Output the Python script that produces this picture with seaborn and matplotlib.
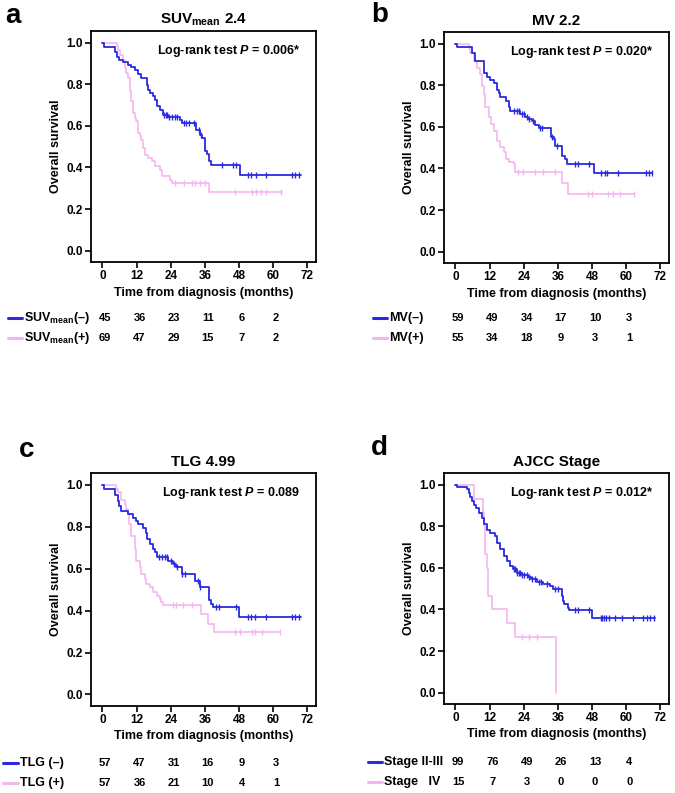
import numpy as np
import pandas as pd
import matplotlib
matplotlib.use("Agg")
import matplotlib.pyplot as plt
import matplotlib.transforms as mtransforms
from matplotlib.lines import Line2D
import seaborn as sns

sns.set_style("ticks")
plt.rcParams['font.family'] = ['Liberation Sans', 'DejaVu Sans']
plt.rcParams['font.weight'] = 'bold'
plt.rcParams['axes.labelweight'] = 'bold'
plt.rcParams['axes.titleweight'] = 'bold'
plt.rcParams['text.color'] = 'black'
plt.rcParams['axes.labelcolor'] = 'black'
plt.rcParams['xtick.color'] = 'black'
plt.rcParams['ytick.color'] = 'black'
plt.rcParams['mathtext.fontset'] = 'custom'
plt.rcParams['mathtext.rm'] = 'Liberation Sans:bold'
plt.rcParams['mathtext.it'] = 'Liberation Sans:bold:italic'
plt.rcParams['mathtext.bf'] = 'Liberation Sans:bold'

W, H = 675, 793
BLUE = '#2a2ae0'
PINK = '#f3b6f0'

# ---- data ----
risk_times = [0, 12, 24, 36, 48, 60]

# a: SUVmean 2.4
a_neg_t = [0, 0.4, 4.5, 5.2, 6.0, 7.2, 9.0, 10.2, 11.4, 12.6, 13.7, 15.5, 16.0, 16.7, 17.6, 18.4, 19.0,
           20.2, 21.4, 23.0, 27.3, 27.9, 33.0, 34.4, 35.0, 36.0, 36.8, 37.4, 38.2, 48.2, 69.8]
a_neg_s = [1.0, 0.978, 0.956, 0.933, 0.918, 0.91, 0.894, 0.882, 0.87, 0.85, 0.83, 0.798, 0.774, 0.758, 0.742,
           0.726, 0.694, 0.678, 0.654, 0.645, 0.63, 0.612, 0.582, 0.558, 0.54, 0.48, 0.465, 0.43, 0.41, 0.362, 0.362]
a_neg_cens = [21.5, 22.2, 22.8, 23.5, 24.6, 25.5, 26.2, 28.5, 29.5, 30.5, 32.0, 33.8, 34.7, 42.0, 46.0, 47.0,
              51.0, 52.3, 53.8, 57.5, 66.5, 67.8, 69.0]
a_pos_t = [0, 5.0, 5.4, 6.2, 7.2, 7.8, 8.4, 9.0, 9.6, 10.2, 10.8, 11.4, 11.9, 12.5, 13.1, 13.7, 14.3, 14.9,
           16.1, 17.3, 18.4, 20.2, 20.8, 23.8, 24.4, 37.5, 63.0]
a_pos_s = [1.0, 0.986, 0.966, 0.942, 0.918, 0.878, 0.855, 0.83, 0.766, 0.718, 0.662, 0.64, 0.622, 0.566, 0.55,
           0.534, 0.494, 0.462, 0.446, 0.43, 0.405, 0.39, 0.357, 0.341, 0.325, 0.28, 0.28]
a_pos_cens = [25.5, 28.5, 31.4, 32.6, 34.4, 36.2, 46.5, 52.5, 54.0, 55.7, 57.4, 62.8]
a_risk_neg = [45, 36, 23, 11, 6, 2]
a_risk_pos = [69, 47, 29, 15, 7, 2]

# b: MV 2.2
b_neg_t = [0, 0.4, 5.9, 6.8, 9.9, 11.1, 12.3, 13.5, 14.7, 15.3, 15.8, 17.6, 18.7, 19.3, 22.8, 24.6, 25.5,
           26.9, 28.1, 29.2, 33.4, 34.5, 35.1, 37.5, 38.6, 39.2, 48.6, 69.0]
b_neg_s = [1.0, 0.983, 0.958, 0.915, 0.862, 0.838, 0.825, 0.81, 0.78, 0.765, 0.745, 0.725, 0.697, 0.678,
           0.662, 0.65, 0.64, 0.628, 0.607, 0.596, 0.551, 0.543, 0.51, 0.458, 0.447, 0.423, 0.377, 0.377]
b_neg_cens = [20.5, 21.5, 22.2, 23.3, 24.0, 25.0, 26.0, 27.3, 29.8, 30.5, 34.0, 35.5, 42.0, 43.0, 47.0,
              51.0, 52.5, 53.2, 57.2, 66.8, 68.0, 69.0]
b_pos_t = [0, 4.7, 5.3, 6.4, 7.6, 8.5, 9.4, 9.9, 10.5, 11.7, 12.5, 13.5, 14.6, 15.6, 17.0, 17.9, 18.7,
           20.5, 21.1, 37.3, 39.6, 62.6]
b_pos_s = [1.0, 0.982, 0.958, 0.918, 0.886, 0.854, 0.798, 0.758, 0.694, 0.646, 0.614, 0.582, 0.534, 0.501,
           0.477, 0.446, 0.43, 0.42, 0.381, 0.33, 0.278, 0.278]
b_pos_cens = [22.1, 23.9, 27.8, 30.7, 34.8, 46.7, 47.8, 53.7, 55.5, 57.9, 62.6]
b_risk_neg = [59, 49, 34, 17, 10, 3]
b_risk_pos = [55, 34, 18, 9, 3, 1]

# c: TLG 4.99
c_neg_t = [0, 0.4, 4.5, 5.4, 5.8, 6.6, 8.9, 10.7, 11.9, 12.5, 14.2, 15.4, 15.8, 16.6, 17.8, 18.4, 19.0,
           23.1, 24.8, 26.0, 27.8, 32.5, 34.3, 37.5, 38.2, 39.0, 47.8, 69.6]
c_neg_s = [1.0, 0.982, 0.954, 0.923, 0.899, 0.875, 0.86, 0.844, 0.828, 0.812, 0.796, 0.773, 0.741, 0.717,
           0.694, 0.678, 0.654, 0.638, 0.623, 0.607, 0.575, 0.543, 0.512, 0.449, 0.434, 0.418, 0.37, 0.37]
c_neg_cens = [20.0, 21.0, 22.0, 22.8, 24.0, 25.2, 26.3, 28.0, 29.0, 33.5, 34.3, 40.0, 41.0, 47.0, 51.0,
              52.3, 53.5, 57.5, 66.5, 67.8, 69.2]
c_pos_t = [0, 4.8, 5.5, 6.6, 7.8, 8.4, 8.9, 9.5, 10.1, 11.3, 11.9, 13.1, 13.7, 14.8, 15.4, 16.6, 17.8,
           19.0, 20.1, 20.7, 21.3, 34.6, 37.2, 39.3, 62.5]
c_pos_s = [1.0, 0.982, 0.965, 0.93, 0.907, 0.883, 0.86, 0.812, 0.757, 0.693, 0.638, 0.607, 0.575, 0.551,
           0.528, 0.512, 0.488, 0.472, 0.456, 0.44, 0.425, 0.385, 0.338, 0.298, 0.298]
c_pos_cens = [24.9, 26.0, 28.4, 31.3, 46.6, 48.4, 52.5, 53.7, 56.0, 62.5]
c_risk_neg = [57, 47, 31, 16, 9, 3]
c_risk_pos = [57, 36, 21, 10, 4, 1]

# d: AJCC Stage
d_neg_t = [0, 0.4, 4.2, 4.7, 5.3, 5.9, 6.5, 7.1, 8.2, 9.4, 10.0, 11.1, 12.3, 14.0, 14.6, 15.7, 16.9, 18.1,
           19.2, 20.4, 21.5, 23.3, 25.6, 26.7, 28.5, 30.8, 33.1, 34.3, 37.3, 37.7, 38.2, 39.5, 40.0, 48.1, 70.0]
d_neg_s = [1.0, 0.99, 0.98, 0.962, 0.94, 0.921, 0.905, 0.889, 0.865, 0.841, 0.81, 0.785, 0.769, 0.753,
           0.721, 0.689, 0.657, 0.633, 0.609, 0.593, 0.577, 0.566, 0.556, 0.545, 0.534, 0.524, 0.513, 0.497,
           0.465, 0.441, 0.425, 0.409, 0.397, 0.36, 0.36]
d_neg_cens = [20.5, 21.0, 21.6, 22.2, 22.8, 23.5, 24.2, 25.0, 26.0, 27.0, 28.0, 29.3, 30.2, 32.0, 35.0,
              36.0, 42.0, 43.0, 47.0, 51.0, 51.6, 52.2, 53.0, 54.0, 56.0, 58.5, 62.5, 66.0, 67.3, 68.5, 69.6]
d_pos_t = [0, 6.5, 9.7, 10.2, 10.5, 11.0, 11.5, 12.7, 18.0, 21.0, 35.3]
d_pos_s = [1.0, 0.933, 0.867, 0.8, 0.667, 0.6, 0.467, 0.4, 0.333, 0.267, 0.0]
d_pos_cens = [23.3, 25.9, 28.7]
d_risk_neg = [99, 76, 49, 26, 13, 4]
d_risk_pos = [15, 7, 3, 0, 0, 0]

panels = [
    dict(letter='a', title=r'SUV$_{\rm mean}$ 2.4', p=r'Log-rank test $P$ = 0.006*',
         curves=[(a_neg_t, a_neg_s, a_neg_cens), (a_pos_t, a_pos_s, a_pos_cens)],
         labels=[r'SUV$_{\rm mean}$(–)', r'SUV$_{\rm mean}$(+)'], risk=[a_risk_neg, a_risk_pos],
         rect=(91, 31, 225, 231), letter_xy=(5, 16), leg=(8, 22, 24), rows=(318, 338)),
    dict(letter='b', title='MV 2.2', p=r'Log-rank test $P$ = 0.020*',
         curves=[(b_neg_t, b_neg_s, b_neg_cens), (b_pos_t, b_pos_s, b_pos_cens)],
         labels=['MV(–)', 'MV(+)'], risk=[b_risk_neg, b_risk_pos],
         rect=(444, 32, 225, 231), letter_xy=(371, 15), leg=(373, 387, 389), rows=(318, 338)),
    dict(letter='c', title='TLG 4.99', p=r'Log-rank test $P$ = 0.089',
         curves=[(c_neg_t, c_neg_s, c_neg_cens), (c_pos_t, c_pos_s, c_pos_cens)],
         labels=['TLG (–)', 'TLG (+)'], risk=[c_risk_neg, c_risk_pos],
         rect=(91, 473, 225, 233), letter_xy=(19, 450), leg=(3, 18, 20), rows=(763, 783)),
    dict(letter='d', title='AJCC Stage', p=r'Log-rank test $P$ = 0.012*',
         curves=[(d_neg_t, d_neg_s, d_neg_cens), (d_pos_t, d_pos_s, d_pos_cens)],
         labels=['Stage II-III', 'Stage   IV'], risk=[d_risk_neg, d_risk_pos],
         rect=(444, 473, 225, 231), letter_xy=(371, 448), leg=(368, 382, 384), rows=(762, 782)),
]


def fx(px):
    return px / W


def fy(py):
    return 1 - py / H


fig = plt.figure(figsize=(W / 100, H / 100), dpi=100)

for pnl in panels:
    l, t, w, h = pnl['rect']
    ax = fig.add_axes([fx(l), fy(t + h), w / W, h / H])
    # plot pink first, blue on top
    for (times, surv, cens), color, lw in reversed(list(zip(pnl['curves'], [BLUE, PINK], [1.3, 1.2]))):
        df = pd.DataFrame({'t': times, 's': surv})
        sns.lineplot(data=df, x='t', y='s', drawstyle='steps-post', color=color, lw=lw,
                     estimator=None, sort=False, ax=ax)
        idx = np.searchsorted(np.array(times), np.array(cens), side='right') - 1
        cs = np.array(surv)[idx]
        sns.scatterplot(x=cens, y=cs, marker='|', s=13, color=color, linewidth=1.0, ax=ax, zorder=3)
    ax.set_xlim(-4, 75)
    ax.set_ylim(-0.055, 1.057)
    ax.set_xticks(range(0, 73, 12))
    ax.set_yticks(np.arange(0, 1.01, 0.2))
    ax.set_yticklabels([f'{v:.1f}' for v in np.arange(0, 1.01, 0.2)])
    ax.tick_params(direction='out', length=4, width=1.2, labelsize=8.5, pad=2, color='black',
                   labelcolor='black')
    for sp in ax.spines.values():
        sp.set_visible(True)
        sp.set_linewidth(1.3)
        sp.set_color('black')
    ax.set_xlabel('Time from diagnosis (months)', fontsize=9, labelpad=3, color='black')
    ax.set_ylabel('Overall survival', fontsize=9, labelpad=3, color='black')
    ax.set_title(pnl['title'], fontsize=11, pad=5, color='black')
    ax.text(0.93, 0.915, pnl['p'], transform=ax.transAxes, ha='right', va='center', fontsize=9,
            color='black')

    # panel letter
    fig.text(fx(pnl['letter_xy'][0]), fy(pnl['letter_xy'][1]), pnl['letter'], fontsize=20,
             fontweight='bold', ha='left', va='center', color='black')

    # number-at-risk table
    x1, x2, xt = pnl['leg']
    trans = mtransforms.blended_transform_factory(ax.transData, fig.transFigure)
    for row_y, color, label, counts in zip(pnl['rows'], [BLUE, PINK], pnl['labels'], pnl['risk']):
        fig.add_artist(Line2D([fx(x1), fx(x2)], [fy(row_y), fy(row_y)], color=color, lw=2.2,
                              transform=fig.transFigure))
        fig.text(fx(xt), fy(row_y), label, fontsize=9, ha='left', va='center', color='black')
        for tt, n in zip(risk_times, counts):
            ax.text(tt + 1, fy(row_y), str(n), transform=trans, fontsize=8, ha='center', va='center',
                    color='black')

fig.savefig('out.png', dpi=100)
